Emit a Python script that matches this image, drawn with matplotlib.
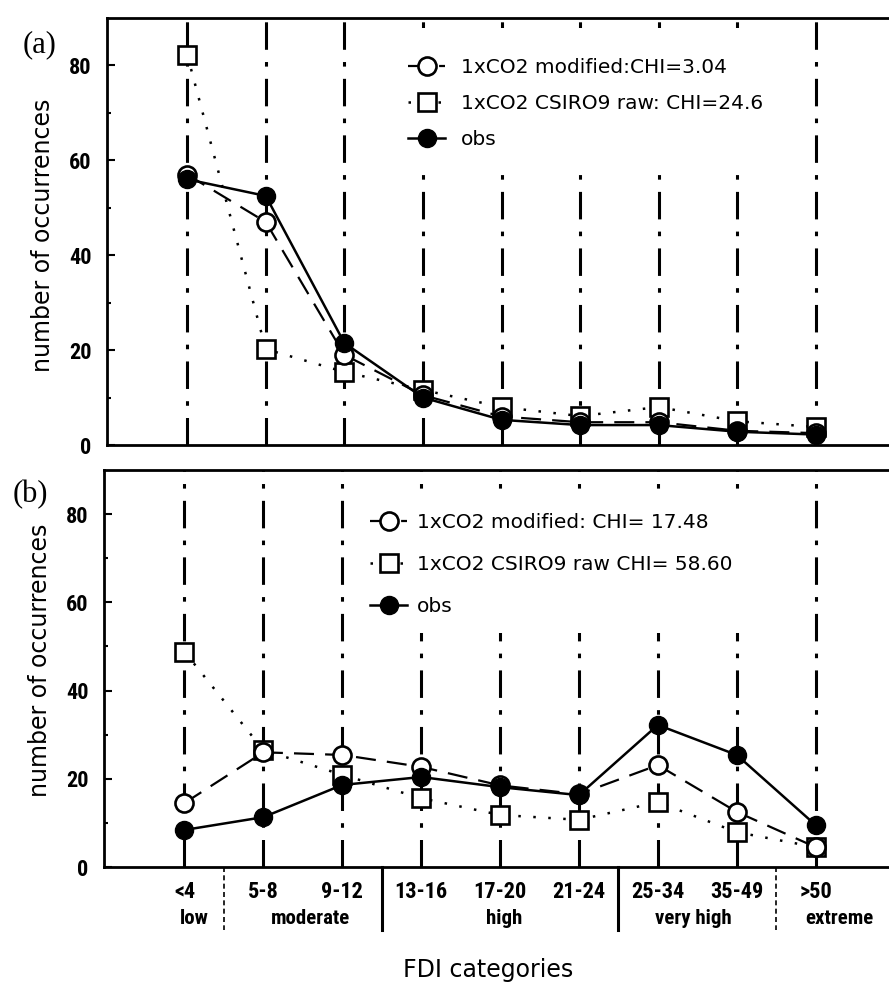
import matplotlib
matplotlib.use("Agg")
import matplotlib.pyplot as plt
from matplotlib import font_manager
from matplotlib.patches import Rectangle
import numpy as np

# ---------------- data ----------------
categories = ["<4", "5-8", "9-12", "13-16", "17-20", "21-24", "25-34", "35-49", ">50"]
groups = ["low", "moderate", "high", "very high", "extreme"]

a_modified = [57, 47, 19, 10.5, 6, 4.8, 4.8, 3, 2.5]
a_raw = [82.3, 20.2, 15.4, 11.6, 8, 6.1, 8, 5, 3.8]
a_obs = [56, 52.5, 21.5, 10, 5.3, 4.2, 4.2, 2.8, 2.2]

b_modified = [14.5, 26, 25.4, 22.7, 18.5, 16.5, 23.1, 12.5, 4.5]
b_raw = [48.8, 26.5, 20.9, 15.6, 11.8, 10.7, 14.7, 7.9, 4.5]
b_obs = [8.4, 11.3, 18.6, 20.4, 18.1, 16.3, 32.2, 25.4, 9.5]

a_labels = ["1xCO2 modified:CHI=3.04", "1xCO2 CSIRO9 raw: CHI=24.6", "obs"]
b_labels = ["1xCO2 modified: CHI= 17.48", "1xCO2 CSIRO9 raw CHI= 58.60", "obs"]

# ---------------- fonts ----------------
names = {f.name for f in font_manager.fontManager.ttflist}
narrow = "DejaVu Sans"
for cand in ["Roboto Condensed", "Liberation Sans Narrow", "Open Sans Condensed", "Liberation Sans"]:
    if cand in names:
        narrow = cand
        break
serif = "Liberation Serif" if "Liberation Serif" in names else "DejaVu Serif"

plt.rcParams["font.family"] = [narrow, "DejaVu Sans"]

W, H = 889, 992
fig = plt.figure(figsize=(W / 100, H / 100), dpi=100)

x = np.arange(len(categories))
xlim = (-1.02, 8.93)


def px_axes(l, t, r, b):
    return fig.add_axes([l / W, 1 - b / H, (r - l) / W, (b - t) / H])


def setup(ax, box, mod, raw, obs, labels, leg_anchor, white, lspace, htpad):
    l, t, r, b = box
    ax.set_xlim(*xlim)
    ax.set_ylim(0, 90)
    for xi in x:
        ax.axvline(xi, color="black", lw=2.2, linestyle=(0, (9, 4, 1.5, 4)), zorder=1)
    # white area behind the legend (interrupts the category lines)
    wl, wt, wr, wb = white
    ax.add_patch(Rectangle(((wl - l) / (r - l), (b - wb) / (b - t)),
                           (wr - wl) / (r - l), (wb - wt) / (b - t),
                           transform=ax.transAxes, facecolor="white",
                           edgecolor="none", zorder=1.5))
    l1, = ax.plot(x, mod, color="black", lw=1.6, linestyle=(0, (9, 5)),
                  marker="o", ms=13, mfc="white", mec="black", mew=1.9, zorder=4)
    l2, = ax.plot(x, raw, color="black", lw=1.8, linestyle=(0, (1, 5)),
                  marker="s", ms=12.5, mfc="white", mec="black", mew=1.9, zorder=3)
    l3, = ax.plot(x, obs, color="black", lw=1.8, linestyle="-",
                  marker="o", ms=13, mfc="black", mec="black", zorder=5)
    leg = ax.legend([l1, l2, l3], labels, loc="center left", bbox_to_anchor=leg_anchor,
                    frameon=False, prop={"family": "DejaVu Sans", "size": 14.5},
                    handlelength=1.85, handletextpad=htpad,
                    labelspacing=lspace, borderpad=0, borderaxespad=0)
    leg.set_zorder(10)
    ax.set_yticks([0, 20, 40, 60, 80])
    ax.set_yticks([10, 30, 50, 70], minor=True)
    ax.tick_params(axis="y", which="both", direction="in", length=6, width=1.5,
                   labelsize=16, pad=11)
    ax.tick_params(axis="y", which="minor", length=3)
    for lab in ax.get_yticklabels():
        lab.set_fontweight("bold")
    ax.spines["right"].set_visible(False)
    for s in ["left", "top", "bottom"]:
        ax.spines[s].set_linewidth(2)
    ax.set_ylabel("number of occurrences", fontsize=17, family="DejaVu Sans", labelpad=10)


# ---------------- panel (a) ----------------
box1 = (107, 18, 889, 445)
ax1 = px_axes(*box1)
setup(ax1, box1, a_modified, a_raw, a_obs, a_labels,
      ((408 - 107) / 782, (445 - 103.5) / 427), (395, 28, 790, 163), 0.85, 0.8)
ax1.set_xticks(x)
ax1.tick_params(axis="x", which="both", direction="in", bottom=False,
                labelbottom=False, length=0)
ax1.yaxis.label.set_y((445 - 235) / 427)
fig.text(40 / W, 1 - 45 / H, "(a)", fontsize=22, family=serif, ha="center", va="center")

# ---------------- panel (b) ----------------
box2 = (104, 470, 889, 867)
ax2 = px_axes(*box2)
setup(ax2, box2, b_modified, b_raw, b_obs, b_labels,
      ((370 - 104) / 785, (867 - 564.5) / 397), (360, 497, 770, 633), 1.15, 0.5)
ax2.set_xticks(x)
ax2.set_xticklabels(categories, fontsize=16, fontweight="bold")
ax2.tick_params(axis="x", direction="in", length=0, pad=10)
ax2.yaxis.label.set_y((867 - 660) / 397)
fig.text(30 / W, 1 - 495 / H, "(b)", fontsize=22, family=serif, ha="center", va="center")

# group separators below the axis
seps = [(0.5, (0, (3, 2))), (2.5, "-"), (5.5, "-"), (7.5, (0, (3, 2)))]
trans = ax2.get_xaxis_transform()
for xs, ls in seps:
    lw = 1.2 if ls != "-" else 2.2
    ax2.plot([xs, xs], [0, -63 / 397], transform=trans, color="black", lw=lw,
             linestyle=ls, clip_on=False)

group_pos = [0.12, 1.6, 4.05, 6.45, 8.3]
for g, gx in zip(groups, group_pos):
    ax2.text(gx, -(909 - 867) / 397, g, transform=trans, ha="center", va="top",
             fontsize=15, fontweight="bold")

fig.text(488 / W, 1 - 970 / H, "FDI categories", ha="center", va="center",
         fontsize=17, family="DejaVu Sans")

fig.savefig("out.png", dpi=100, facecolor="white")
